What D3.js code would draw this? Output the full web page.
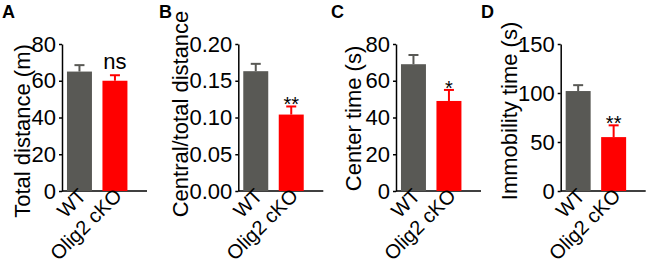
<!DOCTYPE html>
<html>
<head>
<meta charset="utf-8">
<script src="https://cdn.jsdelivr.net/npm/d3@7"></script>
<style>
  body { margin: 0; background: #fff; }
  svg { display: block; font-family: "Liberation Sans", Arial, sans-serif; }
  .tick text { font-size: 22px; fill: #000; }
  .domain, .tick line { stroke: #000; stroke-width: 1.5px; }
</style>
</head>
<body>
<div id="chart"></div>
<script>
// data
var groups = ["WT", "Olig2 cKO"];
var panelLetters = ["A", "B", "C", "D"];
var yTitles = ["Total distance (m)", "Central/total distance", "Center time (s)", "Immobility time (s)"];
var means = [[65, 60], [0.163, 0.104], [69, 49], [102, 55]];
var sems = [[3.5, 3], [0.010, 0.011], [5, 6], [6, 12]];
var yMax = [80, 0.2, 80, 150];
var yTicks = [[0, 20, 40, 60, 80], [0, 0.05, 0.10, 0.15, 0.20], [0, 20, 40, 60, 80], [0, 50, 100, 150]];
var tickFormats = ["d", ".2f", "d", "d"];
var sigLabels = ["ns", "**", "*", "**"];

// layout
var width = 648, height = 267;
var axisX = [62, 238.3, 396, 560.7];
var titleX = [30, 188, 361, 517];
var titleY = [131, 114, 118.5, 111];
var letterX = [2, 159, 331, 481];
var yTop = 44, yBase = 191;
var colors = ["#595955", "#ff0000"];

var svg = d3.select("#chart").append("svg")
    .attr("width", width)
    .attr("height", height);

function drawPanel(i) {
    var g = svg.append("g");
    var x0 = axisX[i];

    var y = d3.scaleLinear()
        .domain([0, yMax[i]])
        .range([yBase, yTop]);

    var x = d3.scaleBand()
        .domain(groups)
        .range([x0, x0 + 70.4])
        .paddingInner(0.296)
        .paddingOuter(0.14);

    // y axis
    g.append("g")
        .attr("transform", `translate(${x0},0)`)
        .call(d3.axisLeft(y)
            .tickValues(yTicks[i])
            .tickFormat(d3.format(tickFormats[i]))
            .tickSize(3)
            .tickSizeOuter(0)
            .tickPadding(3));

    // x axis line
    g.append("line")
        .attr("x1", x0).attr("x2", x0 + 85)
        .attr("y1", yBase).attr("y2", yBase)
        .attr("stroke", "#000")
        .attr("stroke-width", 1.5);

    var rows = groups.map((k, j) => ({key: k, value: means[i][j], sem: sems[i][j], color: colors[j]}));

    // error bars (upper only)
    var err = g.selectAll("g.err").data(rows).enter().append("g")
        .attr("class", "err")
        .attr("stroke", d => d.color)
        .attr("stroke-width", 2);
    err.append("line")
        .attr("x1", d => x(d.key) + x.bandwidth() / 2)
        .attr("x2", d => x(d.key) + x.bandwidth() / 2)
        .attr("y1", d => y(d.value))
        .attr("y2", d => y(d.value + d.sem));
    err.append("line")
        .attr("x1", d => x(d.key) + x.bandwidth() / 2 - 5)
        .attr("x2", d => x(d.key) + x.bandwidth() / 2 + 5)
        .attr("y1", d => y(d.value + d.sem))
        .attr("y2", d => y(d.value + d.sem));

    g.selectAll("rect.bar").data(rows).enter().append("rect")
        .attr("class", "bar")
        .attr("x", d => x(d.key))
        .attr("width", x.bandwidth())
        .attr("y", d => y(d.value))
        .attr("height", d => yBase - y(d.value))
        .style("fill", d => d.color);

    // significance mark over the cKO bar
    var ko = rows[1];
    var isNs = sigLabels[i] === "ns";
    g.append("text")
        .attr("x", x(ko.key) + x.bandwidth() / 2)
        .attr("y", y(ko.value + ko.sem) + (isNs ? -6 : 5))
        .attr("text-anchor", "middle")
        .style("font-size", isNs ? "22px" : "20px")
        .text(sigLabels[i]);

    // rotated group labels
    g.selectAll("text.xlab").data(groups).enter().append("text")
        .attr("class", "xlab")
        .attr("text-anchor", "end")
        .attr("transform", d => `translate(${x(d) + x.bandwidth() / 2 + 8},197) rotate(-45)`)
        .style("font-size", "20px")
        .text(d => d);

    // y title
    g.append("text")
        .attr("transform", `translate(${titleX[i]},${titleY[i]}) rotate(-90)`)
        .attr("text-anchor", "middle")
        .style("font-size", "22px")
        .text(yTitles[i]);

    // panel letter
    g.append("text")
        .attr("x", letterX[i])
        .attr("y", 18)
        .style("font-size", "18px")
        .style("font-weight", "bold")
        .text(panelLetters[i]);
}

for (var i = 0; i < 4; i++) drawPanel(i);
</script>
</body>
</html>
